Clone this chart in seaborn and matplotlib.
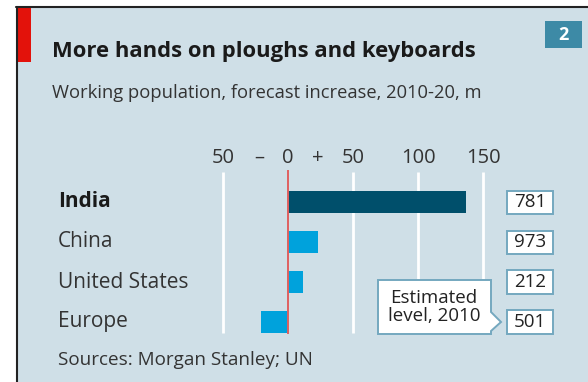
import matplotlib
matplotlib.use("Agg")
import matplotlib.pyplot as plt
import seaborn as sns
import pandas as pd
from matplotlib.patches import Rectangle, Polygon

# data
countries = ["India", "China", "United States", "Europe"]
increase = [137, 23, 11.5, -21]
level_2010 = ["781", "973", "212", "501"]
ticks = [-50, 0, 50, 100, 150]

bg = "#cfdfe7"
dark_bar = "#004f6b"
light_bar = "#00a2dc"
box_edge = "#74a8bf"

sns.set_theme(style="white")
plt.rcParams["font.family"] = ["Open Sans", "DejaVu Sans"]

W, H = 588, 382
fig = plt.figure(figsize=(W / 100, H / 100), dpi=100)
fig.patch.set_facecolor("white")

def fx(px):
    return px / W

def fy(py):
    return 1 - py / H

# panel background and frame
fig.patches.append(Rectangle((fx(16), 0), 1 - fx(16), fy(7), transform=fig.transFigure,
                             facecolor=bg, edgecolor="none", zorder=-10))
fig.add_artist(plt.Line2D([fx(16), 1], [fy(7), fy(7)], color="#222222", lw=1.5))
fig.add_artist(plt.Line2D([fx(16.5), fx(16.5)], [0, fy(7)], color="#222222", lw=1.5))
fig.patches.append(Rectangle((fx(17), fy(62)), fx(14), fy(8) - fy(62), transform=fig.transFigure,
                             facecolor="#e3120b", edgecolor="none", zorder=-5))

# chart number box
fig.patches.append(Rectangle((fx(545), fy(48)), fx(37), fy(21) - fy(48), transform=fig.transFigure,
                             facecolor="#3d8aa6", edgecolor="none", zorder=-5))
fig.text(fx(563.5), fy(35), "2", color="white", fontsize=13, fontweight="bold",
         ha="center", va="center")

fig.text(fx(52), fy(52), "More hands on ploughs and keyboards", fontsize=15.8,
         fontweight="bold", color="#1a1a1a", ha="left", va="center")
fig.text(fx(52), fy(93), "Working population, forecast increase, 2010-20, m",
         fontsize=13.2, color="#333333", ha="left", va="center")
fig.text(fx(58), fy(360), "Sources: Morgan Stanley; UN", fontsize=13.6,
         color="#333333", ha="left", va="center")

# axes: x px 200..500, rows at px 202, 242, 282, 322
left, right = 200, 500
top, bottom = 165, 340
ax = fig.add_axes([fx(left), fy(bottom), fx(right - left), fy(top) - fy(bottom)])
ax.patch.set_alpha(0)

df = pd.DataFrame({"country": countries, "increase": increase})
palette = [dark_bar, light_bar, light_bar, light_bar]
sns.barplot(data=df, x="increase", y="country", hue="country", palette=palette,
            legend=False, width=0.55, ax=ax, zorder=3, saturation=1, linewidth=0)

ax.set_xlim((left - 288) / 1.3, (right - 288) / 1.3)
ax.set_ylim((bottom - 202) / 40, (top - 202) / 40)

for t in ticks:
    if t == 0:
        ax.vlines(t, -0.8, 3.3, color="#e06060", lw=1.4, zorder=4)
    else:
        ax.vlines(t, -0.75, 3.28, color="white", lw=2, zorder=1)

for s in ax.spines.values():
    s.set_visible(False)
ax.set_xlabel("")
ax.set_ylabel("")
ax.set_yticks([])
ax.set_xticks([])

# top tick labels
tick_y = fy(158)
for t in ticks:
    fig.text(fx(288 + 1.3 * t), tick_y, str(abs(t)), fontsize=14.5, color="#333333",
             ha="center", va="center")
fig.text(fx(259), tick_y, "\u2013", fontsize=14.5, color="#333333", ha="center", va="center")
fig.text(fx(318), tick_y, "+", fontsize=14.5, color="#333333", ha="center", va="center")

# row labels and 2010 level boxes
for i, (c, lv) in enumerate(zip(countries, level_2010)):
    row_px = 202 + 40 * i
    fig.text(fx(58), fy(row_px), c, fontsize=15, fontweight="bold" if i == 0 else "normal",
             color="#1a1a1a" if i == 0 else "#333333", ha="left", va="center")
    fig.add_artist(Rectangle((fx(507), fy(row_px + 11.5)), fx(46), fy(row_px - 11.5) - fy(row_px + 11.5),
                             transform=fig.transFigure, facecolor="white",
                             edgecolor=box_edge, lw=1.4))
    fig.text(fx(530), fy(row_px), lv, fontsize=13.5, color="#222222",
             ha="center", va="center")

# callout
x0, x1, y0, y1 = 378, 491, 280, 334
callout = [(x0, y0), (x1, y0), (x1, 312), (501, 322), (x1, 331), (x1, y1), (x0, y1)]
fig.add_artist(Polygon([(fx(a), fy(b)) for a, b in callout], closed=True,
                       transform=fig.transFigure, facecolor="white",
                       edgecolor=box_edge, lw=1.4, zorder=7))
fig.text(fx(434), fy(307), "Estimated\nlevel, 2010", fontsize=13.5, color="#222222",
         ha="center", va="center", linespacing=1.0, zorder=8)

fig.savefig("out.png", dpi=100, facecolor=fig.get_facecolor())
